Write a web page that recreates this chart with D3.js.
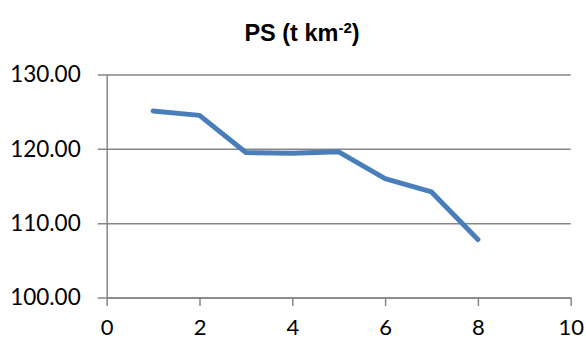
<!DOCTYPE html>
<html><head><meta charset="utf-8">
<script src="https://cdn.jsdelivr.net/npm/d3@7"></script>
<style>html,body{margin:0;padding:0;background:#fff;}svg{display:block;}</style>
</head><body>
<svg id="chart" width="586" height="341"></svg>
<script>
const xValues = [1, 2, 3, 4, 5, 6, 7, 8];
const psValues = [125.1, 124.5, 119.5, 119.4, 119.6, 116.0, 114.2, 107.8];
const xTicks = [0, 2, 4, 6, 8, 10];
const yTicks = [100, 110, 120, 130];

(function () {
const svg = d3.select("#chart");
const mLeft = 106.7, mRight = 570.7, mTop = 74.5, mBottom = 297.5;
const x = d3.scaleLinear().domain([0, 10]).range([mLeft, mRight]);
const y = d3.scaleLinear().domain([100, 130]).range([mBottom, mTop]);
const grey = "#868686";

// title
const title = svg.append("text").attr("x", 302).attr("y", 40.5)
  .attr("text-anchor", "middle")
  .style("font-family", "'Liberation Sans', Arial, sans-serif")
  .style("font-weight", "bold").style("font-size", "23.5px").attr("fill", "#000");
title.append("tspan").text("PS (t km");
title.append("tspan").attr("dy", -8).style("font-size", "15px").text("-2");
title.append("tspan").attr("dy", 8).text(")");

// gridlines + y axis
const yAxis = d3.axisLeft(y).tickValues(yTicks).tickSize(-(mRight - mLeft)).tickSizeOuter(0)
  .tickFormat(d3.format(".2f")).tickPadding(26);
const gy = svg.append("g").attr("transform", `translate(${mLeft},0)`).call(yAxis);
gy.select(".domain").attr("stroke", grey).attr("stroke-width", 1.5);
gy.selectAll(".tick line").attr("stroke", grey).attr("stroke-width", 1.5).attr("x1", -9);
gy.selectAll(".tick text").attr("fill", "#000")
  .style("font-family", "Lato, 'Open Sans', sans-serif").style("font-size", "22.5px");

// x axis
const xAxis = d3.axisBottom(x).tickValues(xTicks).tickSize(8.5).tickSizeOuter(0).tickPadding(13);
const gx = svg.append("g").attr("transform", `translate(0,${mBottom})`).call(xAxis);
gx.select(".domain").attr("stroke", grey).attr("stroke-width", 1.5);
gx.selectAll(".tick line").attr("stroke", grey).attr("stroke-width", 1.5);
gx.selectAll(".tick text").attr("fill", "#000")
  .style("font-family", "Lato, 'Open Sans', sans-serif").style("font-size", "22px");

// line
const data = xValues.map((d, i) => [d, psValues[i]]);
svg.append("path").datum(data)
  .attr("fill", "none").attr("stroke", "#4a7ebb").attr("stroke-width", 5)
  .attr("stroke-linecap", "round").attr("stroke-linejoin", "round")
  .attr("d", d3.line().x(d => x(d[0])).y(d => y(d[1])));
})();
</script>
</body></html>
